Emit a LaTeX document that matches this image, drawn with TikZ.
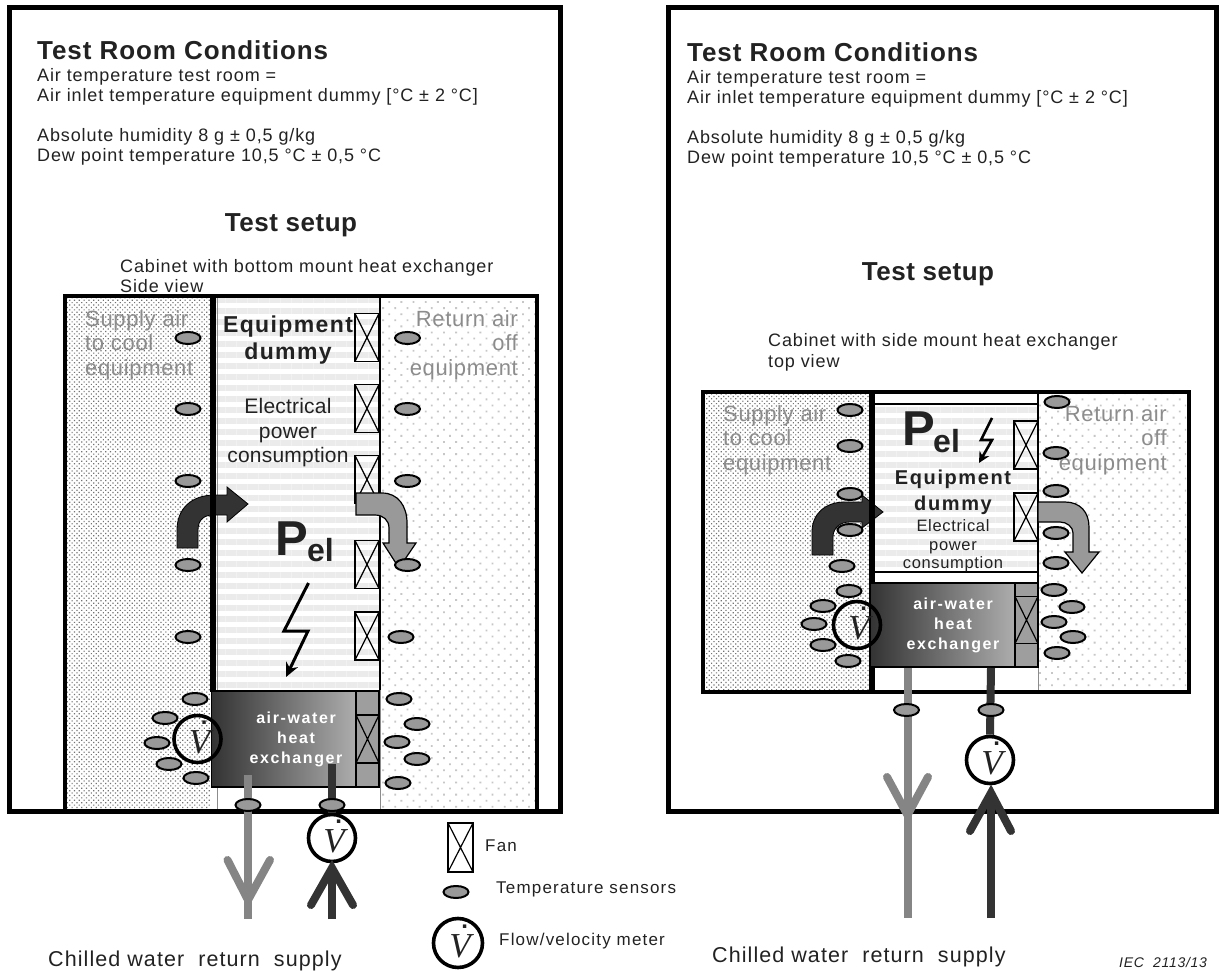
\documentclass[tikz,border=0pt]{standalone}
\usepackage{fontspec}
\setmainfont{Liberation Sans}
\newfontfamily\vfont{Liberation Serif}
\usetikzlibrary{patterns.meta,shapes.geometric,arrows.meta}
\newcommand\lsp[1]{\addfontfeature{LetterSpace=#1}}
\newcommand\fs[2]{\fontsize{#1}{#2}\selectfont}
\newcommand\dotV{\kern4pt\rule{0pt}{29.5pt}\makebox[0pt][l]{\kern12pt\smash{\raisebox{29pt}{\fs{24}{24}\bfseries.}}}{\vfont\fs{35}{35}\itshape V}}
\definecolor{dk}{HTML}{333333}
\definecolor{mg}{HTML}{999999}
\definecolor{pg}{HTML}{858585}
\definecolor{ink}{HTML}{222222}
\definecolor{air}{HTML}{8C8C8C}
\tikzset{
  x=1pt,y=-1pt,
  frame/.style={draw=black,line width=5pt},
  cabinet/.style={draw=black,line width=4pt},
  wall/.style={line width=5.5pt,black},
  densefill/.style={pattern={Dots[distance=3.4pt,angle=45,radius=.85pt]},pattern color=black!55},
  sparsefill/.style={pattern={Dots[distance=8.6pt,angle=45,radius=1.3pt]},pattern color=black!22},
  stripefill/.style={pattern={Lines[distance=11pt,line width=5.5pt,angle=0]},pattern color=black!8},
  sensor/.style={ellipse,draw=black,line width=2pt,fill=mg,minimum width=25pt,minimum height=12pt,inner sep=0pt},
  fanbox/.style={rectangle,draw=black,line width=1.6pt,minimum width=24pt,minimum height=48pt,inner sep=0pt,
    path picture={\draw[line width=1.2pt,black] (path picture bounding box.north west)--(path picture bounding box.south east)
      (path picture bounding box.north east)--(path picture bounding box.south west);}},
  meter/.style={circle,draw=black,line width=3.6pt,minimum size=47pt,inner sep=0pt,text=ink,font=\dotV},
  hx/.style={rectangle,draw=black,line width=1.8pt,left color=dk,right color=black!32,inner sep=0pt},
  hxend/.style={rectangle,draw=black,line width=1.8pt,fill=black!38,inner sep=0pt},
  txt/.style={inner sep=0pt,text=ink,anchor=base west,font=\fs{18}{20}\lsp{4.9}},
  head/.style={inner sep=0pt,text=ink,anchor=base west,font=\fs{26}{28}\bfseries\lsp{3.5}},
  headc/.style={inner sep=0pt,text=ink,anchor=base,font=\fs{26}{28}\bfseries\lsp{2}},
  airl/.style={inner sep=0pt,text=air,align=left,anchor=west,font=\fs{22}{24.5}\lsp{3}},
  airr/.style={inner sep=0pt,text=air,align=right,anchor=east,font=\fs{22}{24.5}\lsp{3}},
  hxt/.style={inner sep=0pt,text=white,align=center,font=\fs{16}{20}\bfseries\lsp{10}},
  arrowdk/.style={fill=dk,draw=black,line width=.8pt},
  arrowmg/.style={fill=mg,draw=black,line width=1.2pt},
  bolt/.style={line width=3pt,black,miter limit=10,-{Stealth[length=14pt,width=13pt]}},
  pipeg/.style={line width=8pt,pg},
  piped/.style={line width=8pt,dk},
  chev/.style={line width=8pt,line cap=round,line join=miter},
  legt/.style={inner sep=0pt,anchor=base west,text=ink,font=\fs{17}{18}\lsp{7}},
  cht/.style={inner sep=0pt,anchor=base west,text=ink,font=\fs{21.5}{24}\lsp{5}},
}
\begin{document}
\begin{tikzpicture}
\useasboundingbox (0,0) rectangle (1219,971);
\fill[white] (0,0) rectangle (1219,971);
%% frames
\draw[frame] (9,8) rectangle (560,811);
\draw[frame] (668,8) rectangle (1216,811);
%% left header
\node[head] (lt) at (37,60) {Test Room Conditions};
\node[txt] (l1) at (37,82) {Air temperature test room =};
\node[txt] (l2) at (37,102) {Air inlet temperature equipment dummy [°C ± 2 °C]};
\node[txt] (l3) at (37,142) {Absolute humidity 8 g ± 0,5 g/kg};
\node[txt] (l4) at (37,162) {Dew point temperature 10,5 °C ± 0,5 °C};
\node[headc] (ls) at (291,231) {Test setup};
\node[txt] (l5) at (120,272) {Cabinet with bottom mount heat exchanger};
\node[txt] (l6) at (120,292) {Side view};
%% right header
\node[head] (rt) at (687,62) {Test Room Conditions};
\node[txt] (r1) at (687,84) {Air temperature test room =};
\node[txt] (r2) at (687,104) {Air inlet temperature equipment dummy [°C ± 2 °C]};
\node[txt] (r3) at (687,144) {Absolute humidity 8 g ± 0,5 g/kg};
\node[txt] (r4) at (687,164) {Dew point temperature 10,5 °C ± 0,5 °C};
\node[headc] (rs) at (928,280) {Test setup};
\node[txt] (r5) at (768,346) {Cabinet with side mount heat exchanger};
\node[txt] (r6) at (768,367) {top view};

%%%%%% LEFT CABINET
\fill[white] (65,296) rectangle (538,811);
\path[densefill] (66,297) rectangle (210,809);
\path[sparsefill] (381,297) rectangle (536,809);
\path[stripefill] (216,298) rectangle (379,692);
\draw[black!45,line width=1pt] (217,296)--(217,809);
\draw[black!45,line width=1pt] (380,690)--(380,809);
% dark arrow
\path[arrowdk] (177,548)--(198,548)--(198,530) .. controls (198,520) and (204,515) .. (213,515)
  --(227,515)--(227,522)--(248,504)--(227,487)--(227,495)--(215,495)
  .. controls (190,495) and (177,510) .. (177,530)--cycle;
\draw[wall] (213,296)--(213,692);
\draw[black,line width=1.4pt] (380,296)--(380,690);
\draw[cabinet] (65,296) rectangle (537,811);
\node[fanbox] (f1) at (367,337.5) {};
\node[fanbox] (f2) at (367,408.5) {};
\node[fanbox] (f3) at (367,479.5) {};
\node[fanbox] (f4) at (367,564.5) {};
\node[fanbox] (f5) at (367,636) {};
% gray arrow
\path[arrowmg] (356,493)--(382,493) .. controls (398,493) and (407,506) .. (407,523)
  --(407,543)--(416,543)--(399,568)--(383,543)--(389,543)--(389,528)
  .. controls (389,520) and (383,515) .. (375,515)--(356,515)--cycle;
\foreach \n/\x/\y in {1/188/338,2/188/409,3/188/481,4/188/565,5/188/637,6/195/699,7/165/718,8/157/743,9/169/764,10/196/778,
  11/407.5/338,12/407.5/409,13/407.5/481,14/407.5/565,15/401/637,16/399/699,17/417/724,18/397/742,19/417/759,20/398/783}
  \node[sensor] (sa\n) at (\x,\y) {};
% heat exchanger
\node[hx,minimum width=145pt,minimum height=96pt] (hxa) at (284,739) {};
\node[hxend,minimum width=23pt,minimum height=96pt] (hea) at (367.5,739) {};
\node[fanbox,minimum height=48pt,minimum width=23pt] (fa) at (367.5,739) {};
\node[hxt] (hxta) at (296,739) {air-water\\heat\\exchanger};
\node[meter] (ma) at (197.5,739) {};
% pel
\node[inner sep=0pt,anchor=base west,text=ink,font=\fs{49}{49}\bfseries] (pa) at (275,555) {P};
\node[inner sep=0pt,anchor=base west,text=ink,font=\fs{32}{32}\bfseries] (pb) at (307,561) {el};
\node[inner sep=0pt,text=ink,align=center,font=\fs{23}{27}\bfseries\lsp{6}] (eqa) at (288,340.5) {Equipment\\dummy};
\node[inner sep=0pt,text=ink,align=center,font=\fs{21}{24.5}\lsp{1}] (ela) at (288,433) {Electrical\\power\\consumption};
\node[airl] (sua) at (85,345) {Supply air\\to cool\\equipment};
\node[airr] (rea) at (518,345) {Return air\\off\\equipment};
\coordinate (b1) at (308.5,583); \coordinate (b2) at (284,631); \coordinate (b3) at (308,631); \coordinate (b4) at (286,677);
\draw[bolt] (b1)--(b2)--(b3)--(b4);
% pipes
\coordinate (ga1) at (248,775); \coordinate (ga2) at (248,919); \coordinate (ga3) at (227.5,860); \coordinate (ga4) at (248,900); \coordinate (ga5) at (270,860);
\coordinate (da1) at (332,764); \coordinate (da2) at (332,919); \coordinate (da3) at (311,905); \coordinate (da4) at (332,868); \coordinate (da5) at (353,905);
\node[meter,fill=white] (mb) at (332,838) {};
\draw[pipeg] (ga1)--(ga2);
\draw[piped] (da1)--(mb.north);
\draw[piped] (da2)--(da4);
\draw[pg,chev] (ga3)--(ga4)--(ga5);
\draw[dk,chev] (da3)--(da4)--(da5);
\node[sensor] (sg) at (248,805) {};
\node[sensor] (sd) at (332,805) {};
\node[cht] (cha) at (48,966) {Chilled water\ \ return\ \ supply};

%% legend
\node[fanbox,minimum width=25pt,minimum height=49pt] (lf) at (460.5,847.5) {};
\node[legt] (lft) at (485,851) {Fan};
\node[sensor] (lse) at (456,892) {};
\node[legt] (lst) at (496,893) {Temperature sensors};
\node[meter,minimum size=49pt] (lm) at (458,943) {};
\node[legt] (lmt) at (499,945) {Flow/velocity meter};

%%%%%% RIGHT CABINET
\path[densefill] (704,394) rectangle (870,690);
\path[sparsefill] (1039,394) rectangle (1186,690);
\path[stripefill] (874,404) rectangle (1038,572);
\draw[black,line width=1.6pt] (874,404) rectangle (1038,572);
\path[arrowdk] (812,555)--(833,555)--(833,537) .. controls (833,528) and (840,522) .. (850,522)
  --(862,522)--(862,528)--(883,512)--(862,495)--(862,502)--(845,502)
  .. controls (825,502) and (812,514) .. (812,532)--cycle;
\draw[wall] (872,392)--(872,692);
\draw[black,line width=1.2pt] (1038,394)--(1038,667);
\draw[black!45,line width=1pt] (1038,667)--(1038,692);
\draw[cabinet] (702.5,392) rectangle (1188.5,692);
\node[fanbox] (g1) at (1026,445) {};
\node[fanbox] (g2) at (1026,517) {};
\path[arrowmg] (1038,502)--(1065,502) .. controls (1080,502) and (1089,512) .. (1089,527)
  --(1089,552)--(1099,552)--(1082,573)--(1065,552)--(1073,552)--(1073,533)
  .. controls (1073,527) and (1067,522) .. (1060,522)--(1038,522)--cycle;
\foreach \n/\x/\y in {1/850/410,2/850/446,3/850/494,4/850/530,5/842/566,6/849/591,7/823/606,8/814/624,9/823/645,10/848/661,
  11/1057/402,12/1056/453,13/1056/491,14/1056/533,15/1056/563,16/1054/590,17/1072/607,18/1054/622,19/1073/637,20/1057/653}
  \node[sensor] (sb\n) at (\x,\y) {};
\node[hx,minimum width=145pt,minimum height=84pt] (hxb) at (942.5,625) {};
\node[hxend,minimum width=23pt,minimum height=84pt] (heb) at (1026.5,625) {};
\node[fanbox,minimum height=47pt,minimum width=23pt] (fb) at (1026.5,620) {};
\node[hxt] (hxtb) at (953,625.5) {air-water\\heat\\exchanger};
\node[meter] (mc) at (857,625) {};
\node[inner sep=0pt,anchor=base west,text=ink,font=\fs{49}{49}\bfseries] (pc) at (902,445) {P};
\node[inner sep=0pt,anchor=base west,text=ink,font=\fs{32}{32}\bfseries] (pd) at (933,452) {el};
\node[inner sep=0pt,text=ink,align=center,font=\fs{20}{26}\bfseries\lsp{8}] (eqb) at (953,492) {Equipment\\dummy};
\node[inner sep=0pt,text=ink,align=center,font=\fs{16.5}{18.5}\lsp{4}] (elb) at (953,546) {Electrical\\power\\consumption};
\node[airl] (sub) at (723,440) {Supply air\\to cool\\equipment};
\node[airr] (reb) at (1167,440) {Return air\\off\\equipment};
\coordinate (c1) at (992,418); \coordinate (c2) at (981,440); \coordinate (c3) at (992,440); \coordinate (c4) at (979,463);
\draw[line width=2.6pt,black,-{Stealth[length=11pt,width=11pt]}] (c1)--(c2)--(c3)--(c4);
\coordinate (gb1) at (907.5,668); \coordinate (gb2) at (907.5,918); \coordinate (gb3) at (887,777); \coordinate (gb4) at (907.5,815); \coordinate (gb5) at (928,777);
\coordinate (db1) at (991,668); \coordinate (db2) at (991,918); \coordinate (db3) at (970,831); \coordinate (db4) at (991,793); \coordinate (db5) at (1011,831);
\node[meter,fill=white] (md) at (990,760) {};
\draw[pipeg] (gb1)--(gb2);
\draw[piped] (db1)--(md.north);
\draw[piped] (db2)--(db4);
\draw[pg,chev] (gb3)--(gb4)--(gb5);
\draw[dk,chev] (db3)--(db4)--(db5);
\node[sensor] (sh) at (906.5,710) {};
\node[sensor] (si) at (991,710) {};
\node[cht] (chb) at (712,962) {Chilled water\ \ return\ \ supply};
\node[inner sep=0pt,anchor=base west,text=ink,font=\fs{14}{16}\itshape\lsp{5}] (iec) at (1119,967) {IEC\ \ 2113/13};
\end{tikzpicture}
\end{document}
